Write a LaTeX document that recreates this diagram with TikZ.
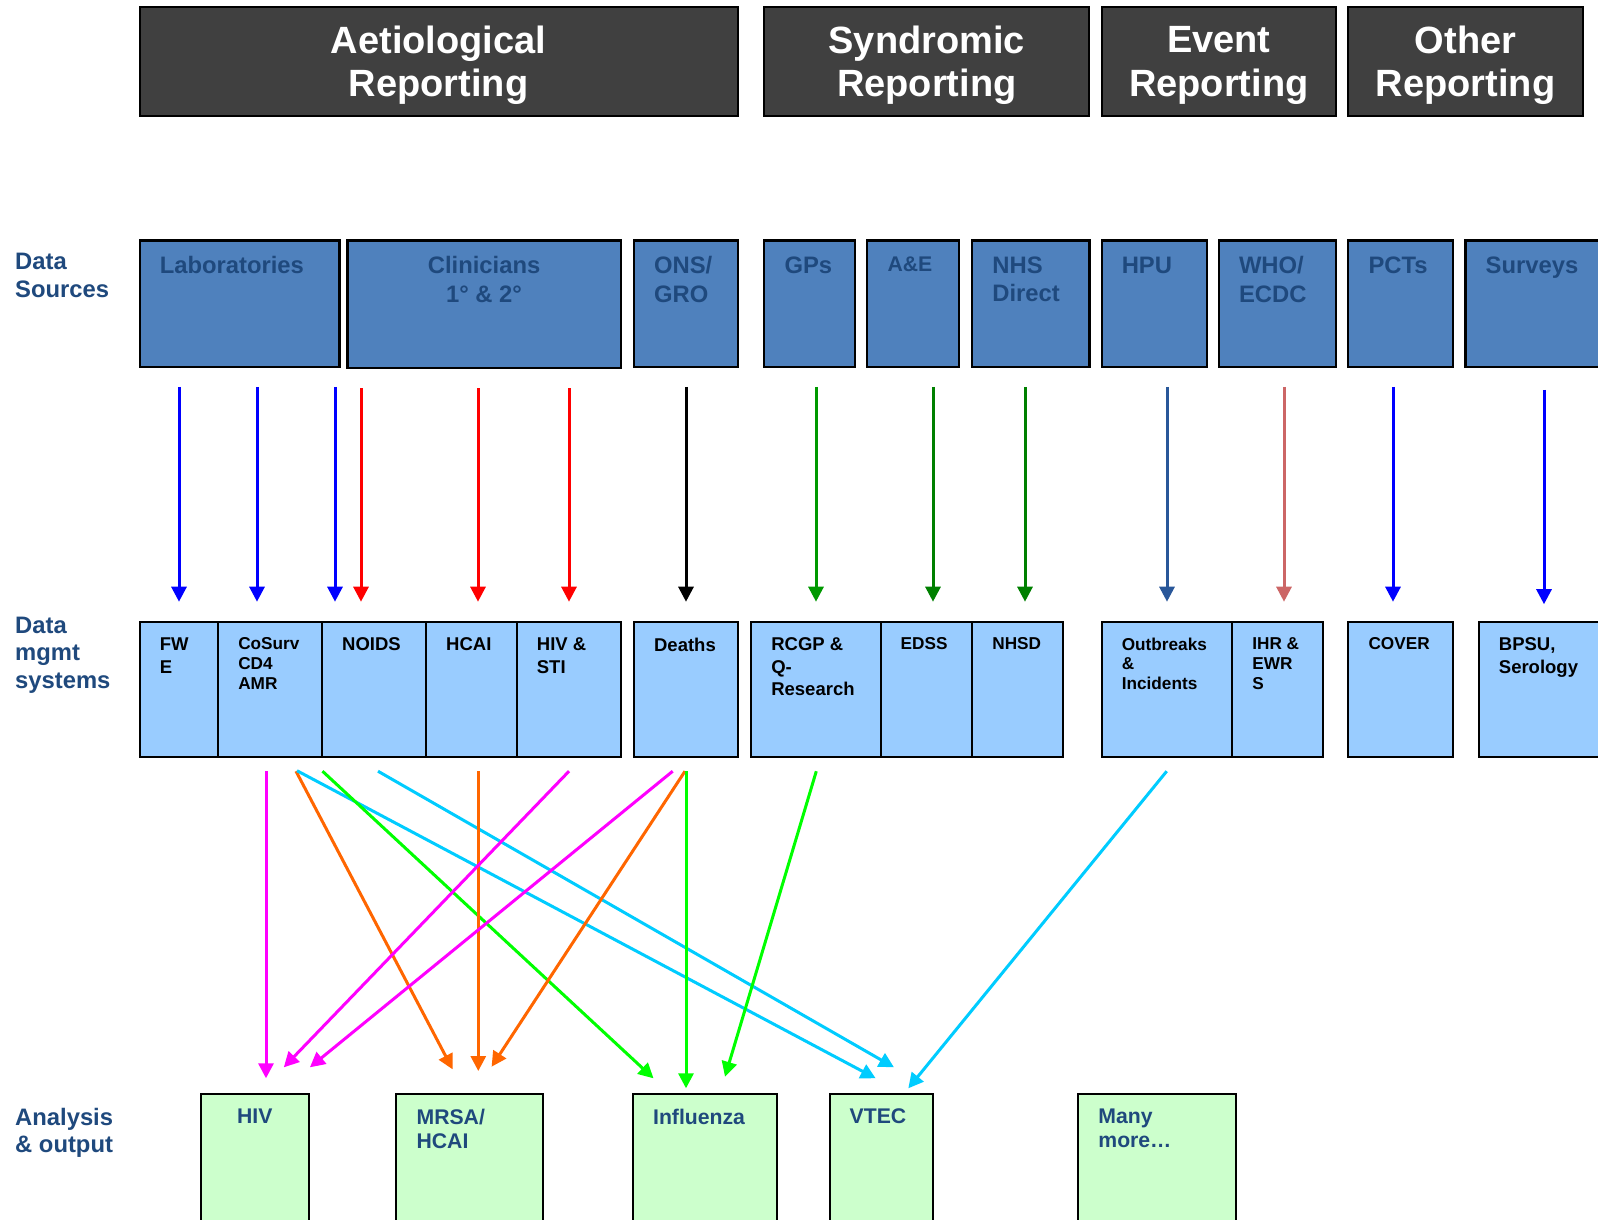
\documentclass[tikz,border=0pt]{standalone}
\usepackage{fontspec}
\setmainfont{Liberation Sans}
\usetikzlibrary{arrows.meta, calc}

\definecolor{hdrgray}{RGB}{64,64,64}
\definecolor{srcblue}{RGB}{79,129,189}
\definecolor{sysblue}{RGB}{153,204,255}
\definecolor{outgreen}{RGB}{204,255,204}
\definecolor{txtblue}{RGB}{31,73,125}
\definecolor{arrblue}{RGB}{0,0,255}
\definecolor{arrred}{RGB}{255,0,0}
\definecolor{gpgreen}{RGB}{0,153,0}
\definecolor{dkgreen}{RGB}{0,128,0}
\definecolor{hpublue}{RGB}{41,87,153}
\definecolor{whored}{RGB}{204,102,102}
\definecolor{mag}{RGB}{255,0,255}
\definecolor{org}{RGB}{255,102,0}
\definecolor{cyn}{RGB}{0,204,255}
\definecolor{lime}{RGB}{0,255,0}

\begin{document}
\begin{tikzpicture}[x=1pt, y=-1pt,
  hdrbox/.style={draw=black, line width=2pt, fill=hdrgray, anchor=north west, minimum height=108.5pt, inner sep=0pt, outer sep=0pt},
  hdrtxt/.style={text=white, font=\fontsize{38}{43.4}\selectfont\bfseries, align=center, inner sep=0pt},
  srcbox/.style={draw=black, line width=2.2pt, fill=srcblue, anchor=north west, minimum height=126.4pt, inner sep=0pt, outer sep=0pt},
  srctxt/.style={text=txtblue, font=\fontsize{23.8}{28.5}\selectfont\bfseries, align=left, anchor=north west, inner sep=0pt},
  sysbox/.style={draw=black, line width=2pt, fill=sysblue, anchor=north west, minimum height=135.5pt, inner sep=0pt, outer sep=0pt},
  systxt/.style={font=\fontsize{18.5}{22.4}\selectfont\bfseries, align=left, anchor=north west, inner sep=0pt},
  systxtsm/.style={systxt, font=\fontsize{17.2}{19.6}\selectfont\bfseries},
  outbox/.style={draw=black, line width=2pt, fill=outgreen, anchor=north west, minimum height=150pt, inner sep=0pt, outer sep=0pt},
  outtxt/.style={text=txtblue, font=\fontsize{21.2}{24.5}\selectfont\bfseries, align=left, anchor=north west, inner sep=0pt},
  side/.style={text=txtblue, font=\fontsize{23.8}{28}\selectfont\bfseries, align=left, anchor=north west, inner sep=0pt},
  arr/.style={-{Triangle[width=15pt,length=15pt]}, line width=3pt, shorten <=20pt, shorten >=20pt},
  arrlow/.style={-{Triangle[width=15pt,length=15pt]}, line width=3pt}]
\clip (0,0) rectangle (1598,1219);
\fill[white] (0,0) rectangle (1598,1219);

% reporting headers
\node[hdrbox, minimum width=598pt]   (aet) at (139.6,7) {};
\node[hdrbox, minimum width=325pt]   (syn) at (764.3,7) {};
\node[hdrbox, minimum width=234.4pt] (evt) at (1101.6,7) {};
\node[hdrbox, minimum width=234.4pt] (oth) at (1348.3,7) {};
\node[hdrtxt] (aet-t) at ([yshift=-4pt]aet.center) {Aetiological\\Reporting};
\node[hdrtxt] (syn-t) at ([yshift=-4pt]syn.center) {Syndromic\\Reporting};
\node[hdrtxt] (evt-t) at ([yshift=-4pt]evt.center) {Event\\Reporting};
\node[hdrtxt] (oth-t) at ([yshift=-4pt]oth.center) {Other\\Reporting};

% row labels
\node[side] (ds) at (15,252.5) {Data\\Sources};
\node[side, font=\fontsize{23.8}{27.5}\selectfont\bfseries] (dm) at (15,616.5) {Data\\mgmt\\systems};
\node[side, font=\fontsize{23.8}{27.5}\selectfont\bfseries] (ao) at (15,1108) {Analysis\\\& output};

% data sources
\node[srcbox, minimum width=199.8pt] (lab) at (139.6,240.5) {};
\node[srcbox, minimum width=273.1pt, minimum height=127.5pt] (cli) at (347.5,240.5) {};
\node[srcbox, minimum width=103.9pt] (ons) at (633.9,240.5) {};
\node[srcbox, minimum width=90.7pt]  (gps) at (764.3,240.5) {};
\node[srcbox, minimum width=91.7pt]  (ae)  at (867.3,240.5) {};
\node[srcbox, minimum width=117.2pt] (nhs) at (972.2,240.5) {};
\node[srcbox, minimum width=105pt]   (hpu) at (1101.6,240.5) {};
\node[srcbox, minimum width=117.2pt] (who) at (1218.8,240.5) {};
\node[srcbox, minimum width=104.9pt] (pct) at (1348.3,240.5) {};
\node[srcbox, minimum width=160pt]   (sur) at (1465.5,240.5) {};
\node[srctxt] (lab-t) at ([xshift=20pt,yshift=-16pt]lab.north west) {Laboratories};
\node[srctxt, anchor=north, align=center] (cli-t) at ([yshift=-16pt]cli.north) {Clinicians\\1° \& 2°};
\node[srctxt] (ons-t) at ([xshift=20pt,yshift=-16pt]ons.north west) {ONS/\\GRO};
\node[srctxt] (gps-t) at ([xshift=20pt,yshift=-16pt]gps.north west) {GPs};
\node[srctxt, font=\fontsize{21.2}{25}\selectfont\bfseries] (ae-t) at ([xshift=20pt,yshift=-16pt]ae.north west) {A\&E};
\node[srctxt] (nhs-t) at ([xshift=20pt,yshift=-16pt]nhs.north west) {NHS\\Direct};
\node[srctxt] (hpu-t) at ([xshift=20pt,yshift=-16pt]hpu.north west) {HPU};
\node[srctxt] (who-t) at ([xshift=20pt,yshift=-16pt]who.north west) {WHO/\\ECDC};
\node[srctxt] (pct-t) at ([xshift=20pt,yshift=-16pt]pct.north west) {PCTs};
\node[srctxt] (sur-t) at ([xshift=20pt,yshift=-16pt]sur.north west) {Surveys};

% data management systems
\node[sysbox, minimum width=78.5pt]  (fwe) at (139.6,621.7) {};
\node[sysbox, minimum width=103.9pt] (cos) at (218.1,621.7) {};
\node[sysbox, minimum width=104pt]   (noi) at (322,621.7) {};
\node[sysbox, minimum width=90.7pt]  (hca) at (426,621.7) {};
\node[sysbox, minimum width=103.9pt] (hst) at (516.7,621.7) {};
\node[sysbox, minimum width=103.9pt] (dth) at (633.9,621.7) {};
\node[sysbox, minimum width=129.4pt] (rcg) at (751.1,621.7) {};
\node[sysbox, minimum width=91.7pt]  (eds) at (880.5,621.7) {};
\node[sysbox, minimum width=90.7pt]  (nhd) at (972.2,621.7) {};
\node[sysbox, minimum width=130.5pt] (obr) at (1101.6,621.7) {};
\node[sysbox, minimum width=90.7pt]  (ihr) at (1232.1,621.7) {};
\node[sysbox, minimum width=104.9pt] (cov) at (1348.3,621.7) {};
\node[sysbox, minimum width=150pt]   (bps) at (1478.7,621.7) {};
\node[systxt]   (fwe-t) at ([xshift=20pt,yshift=-16pt]fwe.north west) {FW\\E};
\node[systxtsm] (cos-t) at ([xshift=20pt,yshift=-16pt]cos.north west) {CoSurv\\CD4\\AMR};
\node[systxt]   (noi-t) at ([xshift=20pt,yshift=-16pt]noi.north west) {NOIDS};
\node[systxt]   (hca-t) at ([xshift=20pt,yshift=-16pt]hca.north west) {HCAI};
\node[systxt]   (hst-t) at ([xshift=20pt,yshift=-16pt]hst.north west) {HIV \&\\STI};
\node[systxt]   (dth-t) at ([xshift=20pt,yshift=-16pt]dth.north west) {Deaths};
\node[systxt]   (rcg-t) at ([xshift=20pt,yshift=-16pt]rcg.north west) {RCGP \&\\Q-\\Research};
\node[systxtsm] (eds-t) at ([xshift=20pt,yshift=-16pt]eds.north west) {EDSS};
\node[systxtsm] (nhd-t) at ([xshift=20pt,yshift=-16pt]nhd.north west) {NHSD};
\node[systxtsm] (obr-t) at ([xshift=20pt,yshift=-16pt]obr.north west) {Outbreaks\\\&\\Incidents};
\node[systxtsm] (ihr-t) at ([xshift=20pt,yshift=-16pt]ihr.north west) {IHR \&\\EWR\\S};
\node[systxtsm] (cov-t) at ([xshift=20pt,yshift=-16pt]cov.north west) {COVER};
\node[systxt]   (bps-t) at ([xshift=20pt,yshift=-16pt]bps.north west) {BPSU,\\Serology};

% analysis and output
\node[outbox, minimum width=108pt]   (hiv) at (200.8,1093.5) {};
\node[outbox, minimum width=146.8pt] (mrs) at (396.4,1093.5) {};
\node[outbox, minimum width=143.7pt] (flu) at (632.9,1093.5) {};
\node[outbox, minimum width=103pt]   (vtc) at (829.5,1093.5) {};
\node[outbox, minimum width=158pt]   (mny) at (1078.2,1093.5) {};
\node[outtxt, anchor=north] (hiv-t) at ([yshift=-15pt]hiv.north) {HIV};
\node[outtxt] (mrs-t) at ([xshift=20pt,yshift=-15pt]mrs.north west) {MRSA/\\HCAI};
\node[outtxt] (flu-t) at ([xshift=20pt,yshift=-15pt]flu.north west) {Influenza};
\node[outtxt] (vtc-t) at ([xshift=20pt,yshift=-15pt]vtc.north west) {VTEC};
\node[outtxt] (mny-t) at ([xshift=20pt,yshift=-15pt]mny.north west) {Many\\more…};

% sources to systems
\draw[arr, arrblue] (lab.south -| 179,0) -- (fwe.north -| 179,0);
\draw[arr, arrblue] (lab.south -| 257,0) -- (cos.north -| 257,0);
\draw[arr, arrblue] (lab.south -| 335,0) -- (noi.north -| 335,0);
\draw[arr, arrred] (cli.south -| 361,0) -- (noi.north -| 361,0);
\draw[arr, arrred] (cli.south -| 478,0) -- (hca.north -| 478,0);
\draw[arr, arrred] (cli.south -| 569,0) -- (hst.north -| 569,0);
\draw[arr, black] (ons.south -| 686,0) -- (dth.north -| 686,0);
\draw[arr, gpgreen] (gps.south -| 816,0) -- (rcg.north -| 816,0);
\draw[arr, dkgreen] (ae.south -| 933,0) -- (eds.north -| 933,0);
\draw[arr, dkgreen] (nhs.south -| 1025,0) -- (nhd.north -| 1025,0);
\draw[arr, hpublue] (hpu.south -| 1167,0) -- (obr.north -| 1167,0);
\draw[arr, whored] (who.south -| 1284,0) -- (ihr.north -| 1284,0);
\draw[arr, arrblue] (pct.south -| 1393,0) -- (cov.north -| 1393,0);
\draw[arr, arrblue, shorten <=23pt, shorten >=17.5pt] (sur.south -| 1544,0) -- (bps.north -| 1544,0);

% systems to outputs
\draw[arrlow, mag] ($(cos.south -| 266,0)+(0,14)$) -- ($(hiv.north -| 266,0)+(0,-15.2)$);
\draw[arrlow, org] ($(cos.south -| 296,0)+(0,14)$) -- ($(mrs.north -| 452.6,0)+(0,-24.2)$);
\draw[arrlow, cyn] ($(cos.south -| 297,0)+(0,13.5)$) -- ($(vtc.north -| 875.7,0)+(0,-15.2)$);
\draw[arrlow, lime] ($(noi.south -| 322.5,0)+(0,14)$) -- ($(flu.north -| 653.5,0)+(0,-15.2)$);
\draw[arrlow, cyn] ($(noi.south -| 378,0)+(0,14)$) -- ($(vtc.north -| 894,0)+(0,-26.2)$);
\draw[arrlow, org] ($(hca.south -| 478.3,0)+(0,14)$) -- ($(mrs.north -| 478.3,0)+(0,-22.5)$);
\draw[arrlow, mag] ($(hst.south -| 569,0)+(0,14)$) -- ($(hiv.north -| 283.8,0)+(0,-26.2)$);
\draw[arrlow, mag] ($(dth.south -| 672.7,0)+(0,14)$) -- ($(hiv.north -| 309.9,0)+(0,-26.2)$);
\draw[arrlow, org] ($(dth.south -| 685,0)+(0,14)$) -- ($(mrs.north -| 491.6,0)+(0,-26.8)$);
\draw[arrlow, lime] ($(dth.south -| 686,0)+(0,14)$) -- ($(flu.north -| 686,0)+(0,-5.2)$);
\draw[arrlow, lime] ($(rcg.south -| 816.3,0)+(0,14)$) -- ($(flu.north -| 725,0)+(0,-16.8)$);
\draw[arrlow, cyn] ($(obr.south -| 1166.7,0)+(0,14)$) -- ($(vtc.north -| 908.3,0)+(0,-5.2)$);
\end{tikzpicture}
\end{document}
